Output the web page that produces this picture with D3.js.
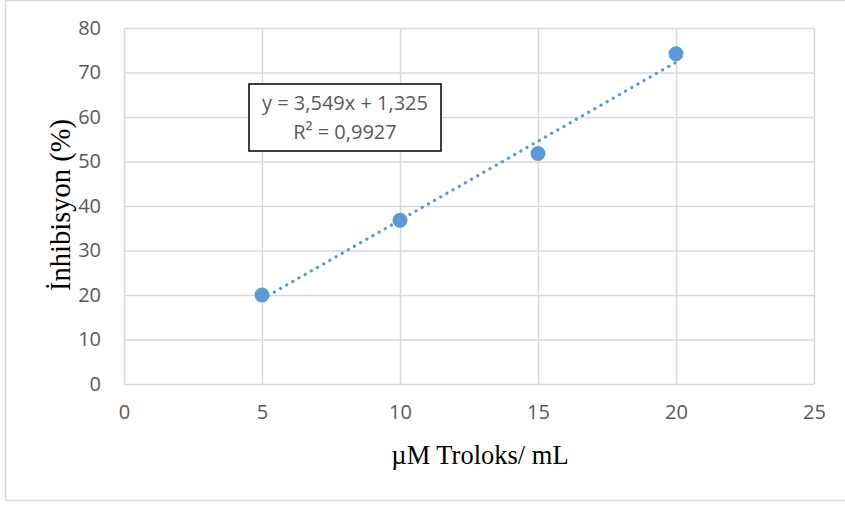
<!DOCTYPE html>
<html>
<head>
<meta charset="utf-8">
<script src="https://cdn.jsdelivr.net/npm/d3@7"></script>
<style>
  body { margin: 0; background: #fff; }
</style>
</head>
<body>
<svg id="chart"></svg>
<script>
// data
const concentrations = [5, 10, 15, 20];
const inhibition = [20.0, 36.8, 51.8, 74.2];
const xTicks = [0, 5, 10, 15, 20, 25];
const yTicks = [0, 10, 20, 30, 40, 50, 60, 70, 80];
const slope = 3.549;
const intercept = 1.325;
const equationLines = ["y = 3,549x + 1,325", "R² = 0,9927"];

const width = 845, height = 506;
const margin = {top: 28, right: 31, bottom: 122, left: 124};
const tickFont = "'Open Sans', sans-serif";
const titleFont = "'Liberation Serif', 'Times New Roman', serif";

const svg = d3.select("#chart")
    .attr("width", width)
    .attr("height", height);

// chart frame
svg.append("rect")
    .attr("x", 5.5).attr("y", 0.5)
    .attr("width", width + 10).attr("height", 500)
    .attr("fill", "#fff")
    .attr("stroke", "#d9d9d9")
    .attr("stroke-width", 1.5);

const xScale = d3.scaleLinear()
    .domain([0, 25])
    .range([margin.left, width - margin.right]);

const yScale = d3.scaleLinear()
    .domain([0, 80])
    .range([height - margin.bottom, margin.top]);

// gridlines
svg.append("g")
    .attr("transform", `translate(${margin.left},0)`)
    .call(d3.axisLeft(yScale).tickValues(yTicks).tickSize(-(width - margin.left - margin.right)).tickFormat(""))
    .call(g => g.select(".domain").remove())
    .call(g => g.selectAll(".tick line").attr("stroke", "#d9d9d9").attr("stroke-width", 1.5));

svg.append("g")
    .attr("transform", `translate(0,${height - margin.bottom})`)
    .call(d3.axisBottom(xScale).tickValues(xTicks).tickSize(-(height - margin.top - margin.bottom)).tickFormat(""))
    .call(g => g.select(".domain").remove())
    .call(g => g.selectAll(".tick line").attr("stroke", "#d9d9d9").attr("stroke-width", 1.5));

// tick labels
svg.append("g")
    .attr("transform", `translate(${margin.left - 10},0)`)
    .call(d3.axisLeft(yScale).tickValues(yTicks).tickSize(0).tickPadding(13))
    .call(g => g.select(".domain").remove())
    .call(g => g.selectAll(".tick text")
        .attr("fill", "#595959")
        .style("font-family", tickFont)
        .style("font-size", "20px"));

svg.append("g")
    .attr("transform", `translate(0,${height - margin.bottom})`)
    .call(d3.axisBottom(xScale).tickValues(xTicks).tickSize(0).tickPadding(21))
    .call(g => g.select(".domain").remove())
    .call(g => g.selectAll(".tick text")
        .attr("fill", "#595959")
        .style("font-family", tickFont)
        .style("font-size", "20px"));

// trendline
const x0 = d3.min(concentrations), x1 = d3.max(concentrations);
svg.append("line")
    .attr("x1", xScale(x0)).attr("y1", yScale(slope * x0 + intercept))
    .attr("x2", xScale(x1)).attr("y2", yScale(slope * x1 + intercept))
    .attr("stroke", "#5b9bd5")
    .attr("stroke-width", 3.2)
    .attr("stroke-linecap", "round")
    .attr("stroke-dasharray", "0.1 7");

// points
svg.append("g").selectAll("circle")
    .data(concentrations)
    .join("circle")
    .attr("cx", d => xScale(d))
    .attr("cy", (d, i) => yScale(inhibition[i]))
    .attr("r", 7.5)
    .attr("fill", "#5b9bd5");

// equation box
const box = svg.append("g").attr("transform", "translate(249,84)");
box.append("rect")
    .attr("width", 192).attr("height", 67)
    .attr("fill", "#fff")
    .attr("stroke", "#000")
    .attr("stroke-width", 1.5);
box.selectAll("text")
    .data(equationLines)
    .join("text")
    .attr("x", 96)
    .attr("y", (d, i) => 26 + i * 29)
    .attr("text-anchor", "middle")
    .attr("fill", "#595959")
    .style("font-family", tickFont)
    .style("font-size", "20px")
    .text(d => d);

// axis titles
svg.append("text")
    .attr("x", 480)
    .attr("y", 464)
    .attr("text-anchor", "middle")
    .attr("fill", "#000")
    .style("font-family", titleFont)
    .style("font-size", "26.5px")
    .text("µM Troloks/ mL");

svg.append("text")
    .attr("transform", "translate(70,205) rotate(-90)")
    .attr("text-anchor", "middle")
    .attr("fill", "#000")
    .style("font-family", titleFont)
    .style("font-size", "28.5px")
    .text("İnhibisyon (%)");
</script>
</body>
</html>
